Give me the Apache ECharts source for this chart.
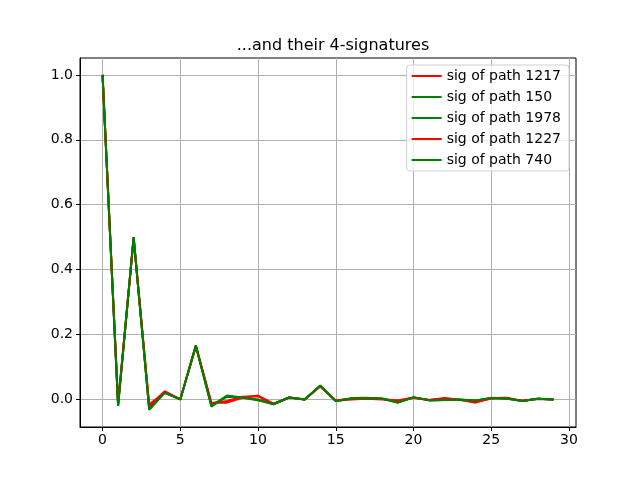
<!DOCTYPE html>
<html>
<head>
<meta charset="utf-8">
<script src="https://cdn.jsdelivr.net/npm/echarts@6/dist/echarts.min.js"></script>
<style>
  html, body { margin: 0; padding: 0; background: #fff; }
  #chart { width: 640px; height: 480px; }
</style>
</head>
<body>
<div id="chart"></div>
<script>
// legend names, in drawing order
let names = ['sig of path 1217', 'sig of path 150', 'sig of path 1978', 'sig of path 1227', 'sig of path 740']
let colors = ['#ff0000', '#008000', '#008000', '#ff0000', '#008000']

// signature terms, index 0..29
let sig1217 = [1.0, -0.01, 0.5, -0.015, 0.02, 0.0, 0.165, -0.01, -0.01, 0.005, 0.012, -0.013, 0.006, 0.0, 0.042, -0.004, 0.0, 0.002, 0.0, -0.003, 0.006, -0.002, 0.004, -0.001, -0.01, 0.004, 0.005, -0.005, 0.002, 0.0]
let sig150 = [1.0, -0.02, 0.5, -0.03, 0.022, 0.0, 0.165, -0.02, 0.012, 0.006, -0.002, -0.014, 0.006, 0.0, 0.042, -0.005, 0.004, 0.005, 0.002, -0.01, 0.006, -0.003, -0.002, 0.0, -0.003, 0.004, 0.002, -0.005, 0.002, 0.0]
let sig1978 = [1.0, -0.018, 0.498, -0.028, 0.024, 0.0, 0.165, -0.018, 0.008, 0.007, 0.0, -0.014, 0.006, 0.0, 0.041, -0.004, 0.003, 0.004, 0.002, -0.008, 0.006, -0.002, -0.001, -0.001, -0.004, 0.004, 0.003, -0.004, 0.002, 0.0]
let sig1227 = [1.0, -0.015, 0.495, -0.02, 0.025, 0.0, 0.165, -0.012, -0.005, 0.008, 0.01, -0.015, 0.006, 0.0, 0.04, -0.003, 0.002, 0.004, 0.001, -0.004, 0.005, -0.002, 0.003, -0.002, -0.008, 0.003, 0.004, -0.004, 0.001, 0.0]
let sig740 = [1.0, -0.02, 0.5, -0.032, 0.02, 0.0, 0.165, -0.022, 0.01, 0.005, -0.003, -0.015, 0.006, 0.0, 0.043, -0.006, 0.003, 0.004, 0.003, -0.01, 0.007, -0.003, -0.002, -0.001, -0.003, 0.005, 0.003, -0.005, 0.002, 0.0]

let xTicks = [0, 5, 10, 15, 20, 25, 30]
let yTicks = [0, 0.2, 0.4, 0.6, 0.8, 1.0]

let allSigs = [sig1217, sig150, sig1978, sig1227, sig740]
let font = 'DejaVu Sans'

let seriesOption = allSigs.map(function (vals, k) {
  return {
    name: names[k],
    type: 'line',
    symbol: 'none',
    animation: false,
    lineStyle: { color: colors[k], width: 2 },
    itemStyle: { color: colors[k] },
    data: vals.map(function (v, i) { return [i, v] }),
  }
})

let myChart = echarts.init(document.getElementById('chart'), null, { renderer: 'canvas' })
myChart.setOption({
  animation: false,
  title: {
    text: '...and their 4-signatures',
    left: 328,
    top: 33,
    textAlign: 'center',
    textStyle: { fontFamily: font, fontSize: 16, fontWeight: 'normal', color: '#000' },
  },
  legend: {
    orient: 'vertical',
    right: 71,
    top: 65,
    padding: [4, 8, 4, 5],
    itemWidth: 30,
    itemHeight: 14,
    itemGap: 7,
    icon: 'path://M0,6 L30,6 L30,8 L0,8 Z',
    backgroundColor: 'rgba(255,255,255,0.8)',
    borderColor: '#d0d0d0',
    borderWidth: 1,
    borderRadius: 3,
    textStyle: { fontFamily: font, fontSize: 14, color: '#000' },
    data: names,
  },
  grid: {
    left: 80,
    right: 64,
    top: 58,
    bottom: 53,
    show: true,
    borderColor: '#000',
    borderWidth: 1,
    containLabel: false,
  },
  xAxis: {
    type: 'value',
    min: -1.45,
    max: 30.45,
    minInterval: 5,
    maxInterval: 5,
    axisLine: { show: true, onZero: false, lineStyle: { color: '#000', width: 1 } },
    axisTick: { show: true, length: 4, lineStyle: { color: '#000' }, customValues: xTicks },
    axisLabel: { color: '#000', fontFamily: font, fontSize: 14, margin: 6, customValues: xTicks },
    splitLine: { show: true, lineStyle: { color: '#b0b0b0', width: 1 } },
  },
  yAxis: {
    type: 'value',
    min: -0.085,
    max: 1.052,
    minInterval: 0.2,
    maxInterval: 0.2,
    axisLine: { show: true, onZero: false, lineStyle: { color: '#000', width: 1 } },
    axisTick: { show: true, length: 4, lineStyle: { color: '#000' }, customValues: yTicks },
    axisLabel: {
      color: '#000', fontFamily: font, fontSize: 14, margin: 7, customValues: yTicks,
      formatter: function (v) { return v.toFixed(1) },
    },
    splitLine: { show: true, lineStyle: { color: '#b0b0b0', width: 1 } },
  },
  tooltip: { show: false },
  series: seriesOption,
})
</script>
</body>
</html>
